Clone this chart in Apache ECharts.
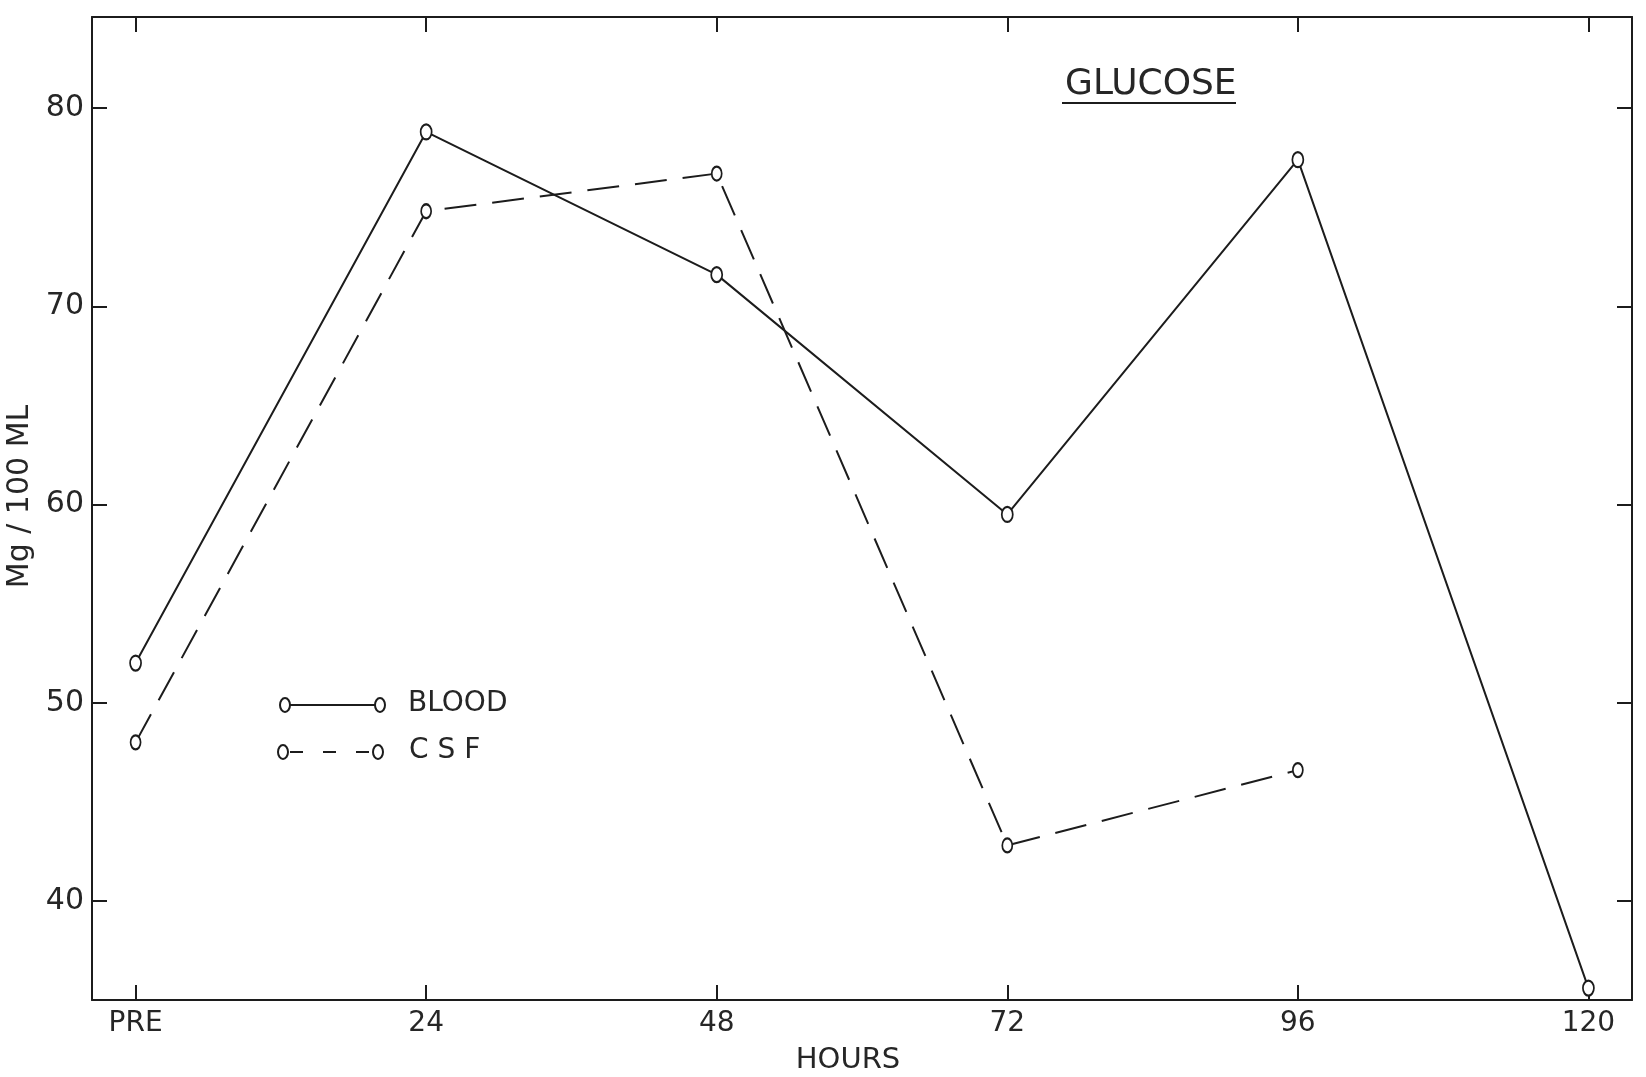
<!DOCTYPE html>
<html>
<head>
<meta charset="utf-8">
<script src="https://cdn.jsdelivr.net/npm/echarts@6/dist/echarts.min.js"></script>
<style>
  html, body { margin: 0; padding: 0; background: #ffffff; }
  #chart { width: 1646px; height: 1077px; }
</style>
</head>
<body>
<div id="chart"></div>
<script>
// Glucose levels (Mg / 100 ML) in blood and CSF over time
const hours = [0, 24, 48, 72, 96, 120];
const hourLabels = ['PRE', '24', '48', '72', '96', '120'];
const bloodGlucose = [52.0, 78.8, 71.6, 59.5, 77.4, 35.6];
const csfHours = [0, 24, 48, 72, 96];
const csfGlucose = [48.0, 74.8, 76.7, 42.8, 46.6];
const glucoseTicks = [40, 50, 60, 70, 80];

const INK = '#1c1c1c';
const TEXT = '#262626';
const FONT = 'DejaVu Sans';

// Tall open "o" marker
const ringPath = 'path://M5,0 A5,7 0 1 1 5,14 A5,7 0 1 1 5,0 Z';

const chart = echarts.init(document.getElementById('chart'), null, { renderer: 'canvas' });

const xBase = {
  type: 'value',
  min: -3.6,
  max: 123.6,
  splitLine: { show: false },
  axisLine: { show: true, onZero: false, lineStyle: { color: INK, width: 2 } },
  axisTick: { show: true, inside: true, length: 15, customValues: hours, lineStyle: { color: INK, width: 2 } }
};
const yBase = {
  type: 'value',
  min: 35,
  max: 84.6,
  splitLine: { show: false },
  axisLine: { show: true, onZero: false, lineStyle: { color: INK, width: 2 } },
  axisTick: { show: true, inside: true, length: 15, customValues: glucoseTicks, lineStyle: { color: INK, width: 2 } }
};

chart.setOption({
  backgroundColor: '#ffffff',
  animation: false,
  title: {
    text: 'GLUCOSE',
    left: 1060,
    top: 62,
    textStyle: { fontFamily: FONT, fontSize: 36, fontWeight: 'normal', color: TEXT }
  },
  grid: { left: 92, right: 14, top: 17, bottom: 77, containLabel: false, outerBoundsMode: 'none' },
  xAxis: [
    Object.assign({}, xBase, {
      position: 'bottom',
      name: 'HOURS',
      nameLocation: 'middle',
      nameGap: 46,
      nameTextStyle: { fontFamily: FONT, fontSize: 29, color: TEXT, padding: [0, 28, 0, 0] },
      axisLabel: {
        show: true,
        customValues: hours,
        margin: 10,
        fontFamily: FONT,
        fontSize: 28,
        color: TEXT,
        formatter: function (v) { return hourLabels[hours.indexOf(v)]; }
      }
    }),
    Object.assign({}, xBase, { position: 'top', axisLabel: { show: false } })
  ],
  yAxis: [
    Object.assign({}, yBase, {
      position: 'left',
      name: 'Mg / 100 ML',
      nameLocation: 'middle',
      nameGap: 52,
      nameRotate: 90,
      nameTextStyle: { fontFamily: FONT, fontSize: 30, color: TEXT, padding: [0, 0, 0, 24] },
      axisLabel: {
        show: true,
        customValues: glucoseTicks,
        margin: 8,
        fontFamily: FONT,
        fontSize: 30,
        color: TEXT
      }
    }),
    Object.assign({}, yBase, { position: 'right', axisLabel: { show: false } })
  ],
  series: [
    {
      name: 'BLOOD',
      type: 'line',
      xAxisIndex: 0,
      yAxisIndex: 0,
      data: hours.map((h, i) => [h, bloodGlucose[i]]),
      symbol: ringPath,
      symbolSize: [11, 15],
      showSymbol: true,
      lineStyle: { color: INK, width: 2 },
      itemStyle: { color: '#ffffff', borderColor: INK, borderWidth: 2 },
      z: 3
    },
    {
      name: 'CSF',
      type: 'line',
      xAxisIndex: 0,
      yAxisIndex: 0,
      data: csfHours.map((h, i) => [h, csfGlucose[i]]),
      symbol: ringPath,
      symbolSize: [10, 14],
      showSymbol: true,
      lineStyle: { color: INK, width: 2, type: [32, 16] },
      itemStyle: { color: '#ffffff', borderColor: INK, borderWidth: 2 },
      z: 2
    }
  ],
  graphic: [
    // underline of the title
    { type: 'line', shape: { x1: 1062, y1: 103, x2: 1236, y2: 103 }, style: { stroke: INK, lineWidth: 2 } },
    // key: blood (solid)
    { type: 'line', shape: { x1: 290, y1: 705, x2: 375, y2: 705 }, style: { stroke: INK, lineWidth: 2 } },
    { type: 'ellipse', shape: { cx: 285, cy: 705, rx: 5, ry: 7 }, style: { fill: '#fff', stroke: INK, lineWidth: 2 } },
    { type: 'ellipse', shape: { cx: 380, cy: 705, rx: 5, ry: 7 }, style: { fill: '#fff', stroke: INK, lineWidth: 2 } },
    { type: 'text', left: 408, top: 690, style: { text: 'BLOOD', fontFamily: FONT, fontSize: 28, fill: TEXT } },
    // key: CSF (dashed)
    { type: 'line', shape: { x1: 290, y1: 752, x2: 370, y2: 752 }, style: { stroke: INK, lineWidth: 2, lineDash: [13, 20] } },
    { type: 'ellipse', shape: { cx: 283, cy: 752, rx: 5, ry: 7 }, style: { fill: '#fff', stroke: INK, lineWidth: 2 } },
    { type: 'ellipse', shape: { cx: 378, cy: 752, rx: 5, ry: 7 }, style: { fill: '#fff', stroke: INK, lineWidth: 2 } },
    { type: 'text', left: 409, top: 737, style: { text: 'C S F', fontFamily: FONT, fontSize: 28, fill: TEXT } }
  ]
});
</script>
</body>
</html>
